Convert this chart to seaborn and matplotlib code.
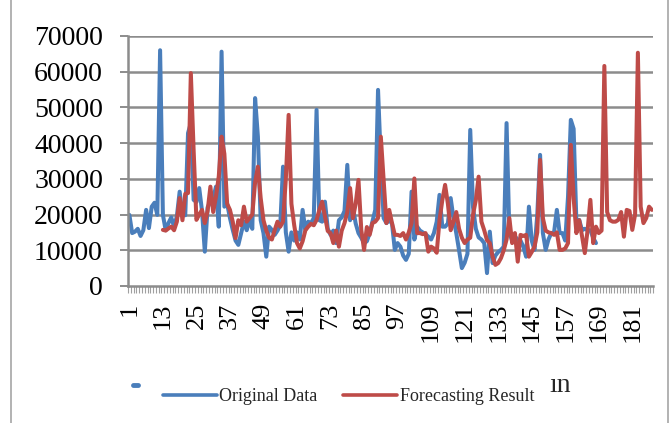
import numpy as np
import pandas as pd
import matplotlib
matplotlib.use("Agg")
import matplotlib.pyplot as plt
import seaborn as sns
from matplotlib.lines import Line2D

# Monthly series: observed values (periods 1-168) and model output (periods 13-188)
original_data = [
    19900, 14800, 15200, 16000, 14000, 15600, 21300, 16200, 22200, 23300,
    19900, 66000, 19900, 15600, 17600, 19200, 16600, 19500, 26400, 19900,
    19800, 42800, 45600, 24100, 23500, 27400, 21000, 9600, 22000, 23600,
    24500, 27800, 16600, 65600, 22200, 23000, 19000, 15700, 12700, 11500,
    14800, 18000, 15600, 18400, 16000, 52600, 41800, 18400, 14800, 8200,
    16600, 15700, 14300, 15500, 17000, 33400, 15000, 9600, 15000, 12700,
    15000, 13000, 21300, 15700, 18000, 17600, 19000, 49300, 18400, 18000,
    23600, 16000, 14300, 15500, 12000, 18400, 19200, 21000, 33900, 18400,
    22000, 17500, 14800, 13500, 12000, 12500, 14800, 18000, 21300, 54900,
    35000, 19000, 17600, 18400, 17500, 10100, 12000, 11000, 8500, 7300,
    9000, 26400, 13000, 16600, 15500, 15000, 14500, 13800, 13000, 14800,
    18000, 25500, 16600, 16600, 17500, 24600, 19000, 14800, 10000, 5000,
    6500, 9000, 43700, 22000, 16000, 13600, 13000, 12000, 3600, 15200,
    6400, 8500, 9500, 10100, 11000, 45600, 15000, 12700, 13800, 13000,
    12700, 11000, 8200, 22200, 12700, 10100, 20000, 36700, 14800, 10100,
    13000, 14800, 15000, 21300, 14800, 14800, 12700, 25000, 46500, 44000,
    17600, 18500, 15600, 16000, 15600, 15600, 13500, 12000,
]

forecast_result = [
    15700, 15500, 16100, 16600, 15600, 18000, 24600, 18400, 25800, 26000,
    59600, 38000, 18500, 20000, 21300, 17600, 21000, 27800, 20700, 25000,
    30700, 41800, 37000, 23000, 21300, 18000, 13400, 18400, 17000, 22200,
    18000, 19000, 20000, 29000, 33400, 24600, 18400, 15500, 13500, 13000,
    15600, 18000, 16600, 18000, 30000, 47900, 23000, 17000, 12000, 10500,
    12500, 15600, 16600, 17400, 17000, 18500, 21300, 23600, 19500, 15400,
    14800, 12000, 15500, 11000, 15500, 17600, 20700, 27400, 19000, 23000,
    29700, 15700, 10100, 16500, 14300, 17600, 18000, 19000, 41800, 29700,
    17600, 21300, 17600, 14300, 14300, 14000, 14800, 13000, 15000, 17600,
    30100, 14800, 14800, 14500, 14800, 9600, 11000, 10500, 9300, 18400,
    24000, 28300, 23000, 15600, 18000, 20700, 16000, 13500, 12000, 13000,
    13500, 20000, 24000, 30600, 18000, 15600, 12800, 12000, 8200, 5900,
    6400, 7800, 10000, 13000, 19000, 12000, 14800, 6800, 14300, 14000,
    14300, 8200, 9500, 11000, 15000, 35300, 19000, 15500, 15000, 14800,
    14300, 15000, 10100, 10100, 10500, 12000, 39500, 24600, 14800, 18400,
    14000, 9200, 15600, 24100, 12000, 16600, 14800, 15500, 61600, 20700,
    18400, 18000, 18000, 18500, 20700, 13800, 21300, 21000, 15700, 20000,
    65300, 22200, 17600, 19000, 22200, 21300,
]

forecast_start = 13
n_periods = 188
tick_positions = list(range(1, 182, 12))
y_ticks = [0, 10000, 20000, 30000, 40000, 50000, 60000, 70000]

series_names = ["Original Data", "Forecasting Result"]
series_colors = ["#4A7EBB", "#BE4B48"]

df = pd.concat([
    pd.DataFrame({"period": np.arange(1, len(original_data) + 1),
                  "value": original_data, "series": series_names[0]}),
    pd.DataFrame({"period": np.arange(forecast_start, forecast_start + len(forecast_result)),
                  "value": forecast_result, "series": series_names[1]}),
])

sns.set_theme(style="white")
plt.rcParams["font.family"] = ["Liberation Serif", "DejaVu Serif"]

fig = plt.figure(figsize=(6.7, 4.23), dpi=100)
ax = fig.add_axes([0.191, 0.324, 0.784, 0.591])

sns.lineplot(data=df, x="period", y="value", hue="series",
             palette=dict(zip(series_names, series_colors)),
             linewidth=2.9, ax=ax, legend=False, estimator=None)
for line in ax.lines:
    line.set_solid_joinstyle("round")
    line.set_solid_capstyle("round")

ax.set_xlim(0.5, n_periods + 0.5)
ax.set_ylim(0, 70000)
ax.set_yticks(y_ticks)
ax.set_yticklabels([str(v) for v in y_ticks], fontsize=20, color="black")
ax.set_xticks(tick_positions)
ax.set_xticklabels([str(t) for t in tick_positions], rotation=90,
                   fontsize=19, color="black")
ax.set_xticks(np.arange(0.5, n_periods + 1, 1.0), minor=True)
ax.set_xlabel("")
ax.set_ylabel("")

grid_color = "#8C8C8C"
for v in y_ticks[1:]:
    ax.axhline(v, color=grid_color, linewidth=1.8, zorder=0)

for side in ["top", "right"]:
    ax.spines[side].set_visible(False)
for side in ["left", "bottom"]:
    ax.spines[side].set_color(grid_color)
    ax.spines[side].set_linewidth(1.8)

ax.tick_params(axis="y", which="major", direction="out", length=6,
               width=1.4, color=grid_color, pad=12, left=True)
ax.tick_params(axis="x", which="major", direction="out", length=0, pad=12,
               bottom=True)
ax.tick_params(axis="x", which="minor", direction="out", length=5,
               width=0.8, color="#A0A0A0", bottom=True)

handles = [Line2D([0], [0], color=c, linewidth=2.6) for c in series_colors]
fig.legend(handles, series_names, loc="center", bbox_to_anchor=(0.52, 0.062),
           ncol=2, frameon=False, fontsize=13, handlelength=3.0,
           handletextpad=0.15, columnspacing=1.4)

# stray glyphs near the legend
fig.text(0.820, 0.088, "ın", fontsize=20, ha="left", va="center")
fig.add_artist(Line2D([0.198, 0.206], [0.090, 0.090], color=series_colors[0],
                      linewidth=3.5, transform=fig.transFigure))

# chart-area frame
for xf in (0.017, 0.997):
    fig.add_artist(Line2D([xf, xf], [0, 1], color="#A6A6A6", linewidth=1.2,
                          transform=fig.transFigure))

fig.savefig("out.png", dpi=100, facecolor="white")
